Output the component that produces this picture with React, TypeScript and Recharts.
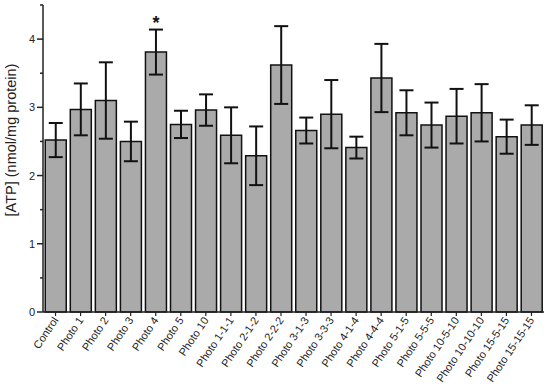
import { BarChart, Bar, XAxis, YAxis, ErrorBar, LabelList } from "recharts"

const groups = [
  "Control",
  "Photo 1",
  "Photo 2",
  "Photo 3",
  "Photo 4",
  "Photo 5",
  "Photo 10",
  "Photo 1-1-1",
  "Photo 2-1-2",
  "Photo 2-2-2",
  "Photo 3-1-3",
  "Photo 3-3-3",
  "Photo 4-1-4",
  "Photo 4-4-4",
  "Photo 5-1-5",
  "Photo 5-5-5",
  "Photo 10-5-10",
  "Photo 10-10-10",
  "Photo 15-5-15",
  "Photo 15-15-15",
]

const atpMean = [
  2.52, 2.97, 3.1, 2.5, 3.81, 2.75, 2.96, 2.59, 2.29, 3.62,
  2.66, 2.9, 2.41, 3.43, 2.92, 2.74, 2.87, 2.92, 2.57, 2.74,
]

const atpSd = [
  0.25, 0.38, 0.56, 0.29, 0.33, 0.2, 0.23, 0.41, 0.43, 0.57,
  0.19, 0.5, 0.16, 0.5, 0.33, 0.33, 0.4, 0.42, 0.25, 0.29,
]

const significance = ["", "", "", "", "*", "", "", "", "", "", "", "", "", "", "", "", "", "", "", ""]

const yTicks = [0, 0.5, 1, 1.5, 2, 2.5, 3, 3.5, 4, 4.5]

const data = groups.map((name, i) => ({
  name,
  atp: atpMean[i],
  sd: atpSd[i],
  sig: significance[i],
}))

const font = "'Liberation Sans', Arial, sans-serif"

function YTick(props: any) {
  const { x, y, payload } = props
  const major = Number.isInteger(payload.value)
  const len = major ? 6 : 3
  return (
    <g>
      <line x1={x - len} x2={x} y1={y} y2={y} stroke="#222" strokeWidth={1.5} />
      {major && (
        <text x={x - len - 2} y={y} dy={4} textAnchor="end" fontSize={11} fill="#222" fontFamily={font}>
          {payload.value}
        </text>
      )}
    </g>
  )
}

function XTick(props: any) {
  const { x, y, payload } = props
  return (
    <text
      x={x}
      y={y}
      dy={4}
      textAnchor="end"
      fontSize={11}
      fill="#222"
      fontFamily={font}
      transform={`rotate(-56 ${x} ${y})`}
    >
      {payload.value}
    </text>
  )
}

function Star(props: any) {
  const { x, y, width, height, value, index } = props
  if (!value) return null
  const pxPerUnit = height / atpMean[index]
  const top = y - atpSd[index] * pxPerUnit
  return (
    <text x={x + width / 2} y={top - 1} textAnchor="middle" fontSize={18} fontWeight="bold" fill="#111" fontFamily={font}>
      {value}
    </text>
  )
}

export default function App() {
  return (
    <div style={{ position: "absolute", left: 0, top: 0, width: 550, height: 391, background: "#fff" }}>
      <BarChart
        width={550}
        height={391}
        data={data}
        margin={{ top: 5, right: 6, left: 0, bottom: 0 }}
        barCategoryGap="9%"
      >
        <XAxis
          dataKey="name"
          interval={0}
          tick={<XTick />}
          tickSize={4}
          tickMargin={2}
          height={79}
          axisLine={{ stroke: "#222", strokeWidth: 1.5 }}
          tickLine={{ stroke: "#222", strokeWidth: 1.2 }}
        />
        <YAxis
          width={43}
          domain={[0, 4.5]}
          ticks={yTicks}
          interval={0}
          tick={<YTick />}
          tickLine={false}
          tickSize={0}
          tickMargin={0}
          axisLine={{ stroke: "#222", strokeWidth: 1.5 }}
          label={{
            content: () => (
              <text
                x={16}
                y={140}
                textAnchor="middle"
                fontSize={14.5}
                fill="#222"
                fontFamily={font}
                transform="rotate(-90 16 140)"
              >
                [ATP] (nmol/mg protein)
              </text>
            ),
          }}
        />
        <Bar dataKey="atp" fill="#aaaaaa" stroke="#111" strokeWidth={1.5} isAnimationActive={false}>
          <ErrorBar dataKey="sd" width={7} stroke="#111" strokeWidth={2} />
          <LabelList dataKey="sig" content={<Star />} />
        </Bar>
      </BarChart>
    </div>
  )
}
